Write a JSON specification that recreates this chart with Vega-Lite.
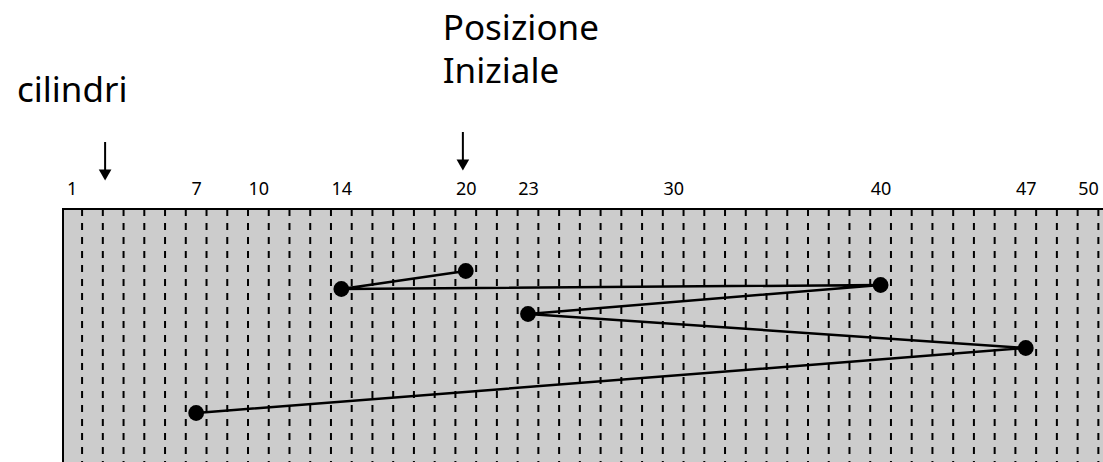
{
  "$schema": "https://vega.github.io/schema/vega-lite/v6.json",
  "width": 1042,
  "height": 256,
  "autosize": {"type": "none"},
  "padding": {"left": 63, "top": 209, "right": 0, "bottom": 0},
  "background": "white",
  "config": {
    "view": {"fill": "#cccccc", "stroke": "black", "strokeWidth": 2},
    "font": "Noto Sans"
  },
  "datasets": {
    "path": [
      {"step": 0, "cylinder": 20, "depth": 62},
      {"step": 1, "cylinder": 14, "depth": 80},
      {"step": 2, "cylinder": 40, "depth": 76},
      {"step": 3, "cylinder": 23, "depth": 105},
      {"step": 4, "cylinder": 47, "depth": 139},
      {"step": 5, "cylinder": 7, "depth": 204}
    ],
    "grid": [
      {"cylinder": 1.5}, {"cylinder": 2.5}, {"cylinder": 3.5}, {"cylinder": 4.5}, {"cylinder": 5.5},
      {"cylinder": 6.5}, {"cylinder": 7.5}, {"cylinder": 8.5}, {"cylinder": 9.5}, {"cylinder": 10.5},
      {"cylinder": 11.5}, {"cylinder": 12.5}, {"cylinder": 13.5}, {"cylinder": 14.5}, {"cylinder": 15.5},
      {"cylinder": 16.5}, {"cylinder": 17.5}, {"cylinder": 18.5}, {"cylinder": 19.5}, {"cylinder": 20.5},
      {"cylinder": 21.5}, {"cylinder": 22.5}, {"cylinder": 23.5}, {"cylinder": 24.5}, {"cylinder": 25.5},
      {"cylinder": 26.5}, {"cylinder": 27.5}, {"cylinder": 28.5}, {"cylinder": 29.5}, {"cylinder": 30.5},
      {"cylinder": 31.5}, {"cylinder": 32.5}, {"cylinder": 33.5}, {"cylinder": 34.5}, {"cylinder": 35.5},
      {"cylinder": 36.5}, {"cylinder": 37.5}, {"cylinder": 38.5}, {"cylinder": 39.5}, {"cylinder": 40.5},
      {"cylinder": 41.5}, {"cylinder": 42.5}, {"cylinder": 43.5}, {"cylinder": 44.5}, {"cylinder": 45.5},
      {"cylinder": 46.5}, {"cylinder": 47.5}, {"cylinder": 48.5}, {"cylinder": 49.5}, {"cylinder": 50.5}
    ],
    "arrows": [
      {"cylinder": 2.61, "from": -67, "to": -34},
      {"cylinder": 19.86, "from": -77, "to": -44}
    ],
    "notes": [
      {"cylinder": -1.64, "depth": -107, "text": "cilindri", "kind": "small"},
      {"cylinder": 18.89, "depth": -169, "text": "Posizione", "kind": "big"},
      {"cylinder": 18.89, "depth": -126, "text": "Iniziale", "kind": "big"}
    ]
  },
  "layer": [
    {
      "data": {"name": "grid"},
      "mark": {"type": "rule", "color": "black", "strokeWidth": 2, "strokeDash": [7, 7]},
      "encoding": {
        "x": {
          "field": "cylinder", "type": "quantitative",
          "scale": {"domain": [0.58, 50.82], "nice": false, "zero": false},
          "axis": {
            "orient": "top", "values": [1, 7, 10, 14, 20, 23, 30, 40, 47, 50],
            "title": null, "domain": false, "ticks": false, "grid": false,
            "labelFontSize": 18, "labelColor": "black", "labelFont": "Noto Sans",
            "labelBaseline": "alphabetic", "labelPadding": 15, "labelFlush": false,
            "labelOverlap": false
          }
        }
      }
    },
    {
      "data": {"name": "path"},
      "mark": {"type": "line", "color": "black", "strokeWidth": 2.5, "strokeJoin": "round", "interpolate": "linear"},
      "encoding": {
        "x": {"field": "cylinder", "type": "quantitative"},
        "y": {"field": "depth", "type": "quantitative", "scale": {"domain": [0, 256], "reverse": true, "nice": false, "zero": false}, "axis": null},
        "order": {"field": "step", "type": "quantitative"}
      }
    },
    {
      "data": {"name": "path"},
      "mark": {"type": "point", "filled": true, "color": "black", "opacity": 1, "size": 250},
      "encoding": {
        "x": {"field": "cylinder", "type": "quantitative"},
        "y": {"field": "depth", "type": "quantitative"}
      }
    },
    {
      "data": {"name": "arrows"},
      "mark": {"type": "rule", "color": "black", "strokeWidth": 2},
      "encoding": {
        "x": {"field": "cylinder", "type": "quantitative"},
        "y": {"field": "from", "type": "quantitative"},
        "y2": {"field": "to"}
      }
    },
    {
      "data": {"name": "arrows"},
      "mark": {"type": "point", "shape": "triangle-down", "filled": true, "color": "black", "opacity": 1, "size": 160},
      "encoding": {
        "x": {"field": "cylinder", "type": "quantitative"},
        "y": {"field": "to", "type": "quantitative"}
      }
    },
    {
      "data": {"name": "notes"},
      "transform": [{"filter": "datum.kind == 'small'"}],
      "mark": {"type": "text", "align": "left", "baseline": "alphabetic", "fontSize": 35, "color": "black"},
      "encoding": {
        "x": {"field": "cylinder", "type": "quantitative"},
        "y": {"field": "depth", "type": "quantitative"},
        "text": {"field": "text"}
      }
    },
    {
      "data": {"name": "notes"},
      "transform": [{"filter": "datum.kind == 'big'"}],
      "mark": {"type": "text", "align": "left", "baseline": "alphabetic", "fontSize": 35, "color": "black"},
      "encoding": {
        "x": {"field": "cylinder", "type": "quantitative"},
        "y": {"field": "depth", "type": "quantitative"},
        "text": {"field": "text"}
      }
    }
  ]
}
